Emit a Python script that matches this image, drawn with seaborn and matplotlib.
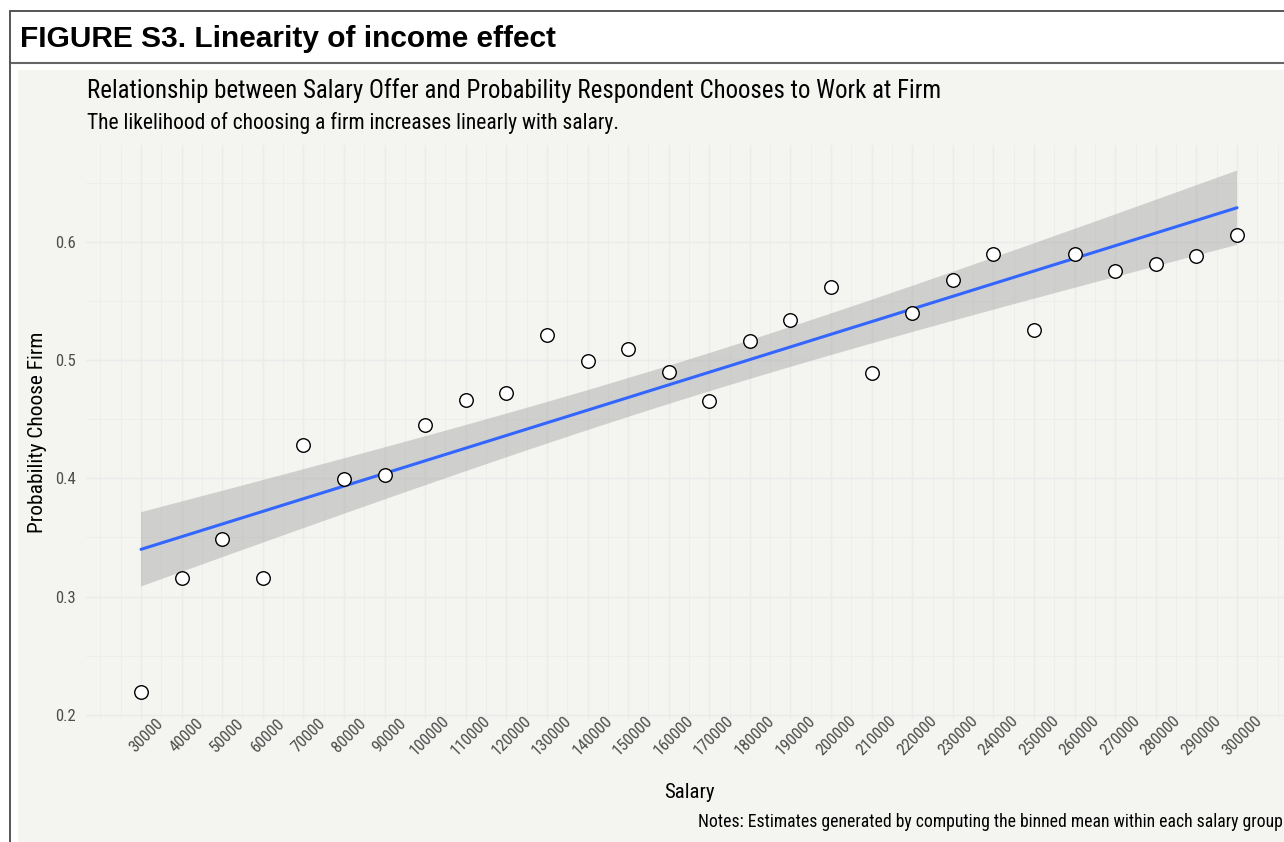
import matplotlib
matplotlib.use("Agg")
import matplotlib.pyplot as plt
import matplotlib.transforms as mtransforms
from matplotlib.lines import Line2D
from matplotlib.patches import Rectangle
import seaborn as sns
import pandas as pd
import numpy as np

# binned means
salary = [30000, 40000, 50000, 60000, 70000, 80000, 90000, 100000, 110000, 120000,
          130000, 140000, 150000, 160000, 170000, 180000, 190000, 200000, 210000, 220000,
          230000, 240000, 250000, 260000, 270000, 280000, 290000, 300000]
prob_choose = [0.219, 0.316, 0.349, 0.316, 0.428, 0.399, 0.403, 0.445, 0.466, 0.472,
               0.521, 0.499, 0.509, 0.490, 0.465, 0.516, 0.534, 0.562, 0.489, 0.540,
               0.568, 0.590, 0.525, 0.590, 0.575, 0.581, 0.588, 0.606]
x_ticks = list(range(30000, 300001, 10000))
y_ticks = [0.2, 0.3, 0.4, 0.5, 0.6]

df = pd.DataFrame({"Salary": salary, "Probability Choose Firm": prob_choose})

sns.set_theme(style="whitegrid")
cond = ["Roboto Condensed", "Liberation Sans Narrow", "Roboto", "DejaVu Sans"]
plt.rcParams["font.family"] = cond

W, H = 1284, 842
fig = plt.figure(figsize=(W / 100, H / 100), dpi=100, facecolor="white")

def fx(px):
    return px / W

def fy(py):
    return 1 - py / H

# light panel background, header rule and frame
fig.patches.append(Rectangle((fx(18.3), 0), 1, fy(70), transform=fig.transFigure,
                             facecolor="#F4F4F1", edgecolor="none", zorder=-5))
fig.lines.append(Line2D([fx(10), 1], [fy(63.3), fy(63.3)], transform=fig.transFigure,
                        color="#666666", lw=1.5))
fig.lines.append(Line2D([fx(10), 1], [fy(11), fy(11)], transform=fig.transFigure,
                        color="#555555", lw=1.4))
fig.lines.append(Line2D([fx(10), fx(10)], [0, fy(11)], transform=fig.transFigure,
                        color="#555555", lw=1.4))

ax_left, ax_right, ax_top, ax_bottom = 86.2, 1291.8, 145, 718.5
ax = fig.add_axes([fx(ax_left), fy(ax_bottom), (ax_right - ax_left) / W, (ax_bottom - ax_top) / H])
ax.set_facecolor("none")

sns.regplot(data=df, x="Salary", y="Probability Choose Firm", ax=ax, ci=None,
            scatter_kws=dict(s=95, color="white", edgecolor="black", linewidths=1.0,
                             alpha=1, zorder=3),
            line_kws=dict(color="#3366FF", lw=2.2, zorder=2))

# standard (non-bootstrap) 95% band, as geom_smooth(method = "lm") draws it
xs = np.asarray(salary, dtype=float)
ys = np.asarray(prob_choose, dtype=float)
n = len(xs)
slope, icpt = np.polyfit(xs, ys, 1)
resid = ys - (icpt + slope * xs)
s_err = np.sqrt((resid ** 2).sum() / (n - 2))
sxx = ((xs - xs.mean()) ** 2).sum()
grid = np.linspace(xs.min(), xs.max(), 100)
se_fit = s_err * np.sqrt(1 / n + (grid - xs.mean()) ** 2 / sxx)
t_crit = 2.0555  # t(0.975, df=26)
fit = icpt + slope * grid
ax.fill_between(grid, fit - t_crit * se_fit, fit + t_crit * se_fit,
                facecolor="#999999", alpha=0.4, edgecolor="none", zorder=1.5)

ax.set_xlim(16500, 313500)
ax.set_ylim(0.197, 0.6817)
ax.set_xticks(x_ticks)
ax.set_xticklabels([str(v) for v in x_ticks])
ax.set_xticks([v for v in range(20000, 310001, 5000) if v not in x_ticks], minor=True)
ax.set_yticks(y_ticks)
ax.set_yticklabels([str(v) for v in y_ticks])
ax.set_yticks([0.25, 0.35, 0.45, 0.55, 0.65], minor=True)

ax.set_axisbelow(True)
ax.grid(which="major", color="#EBEBEB", lw=1.07)
ax.grid(which="minor", color="#EBEBEB", lw=0.55)
for s in ax.spines.values():
    s.set_visible(False)

ax.tick_params(axis="both", which="both", length=0, colors="#4D4D4D", labelsize=12)
ax.tick_params(axis="y", pad=7.6)
ax.tick_params(axis="x", pad=0)
shift = mtransforms.ScaledTranslation(5 / 100, -17 / 100, fig.dpi_scale_trans)
for lab in ax.get_xticklabels():
    lab.set_rotation(45)
    lab.set_rotation_mode("anchor")
    lab.set_ha("center")
    lab.set_va("center")
    lab.set_transform(lab.get_transform() + shift)

ax.set_xlabel("")
ax.set_ylabel("")

fig.text(fx(20), fy(46.7), "FIGURE S3. Linearity of income effect", fontsize=21.5,
         fontweight="bold", family=["Liberation Sans", "DejaVu Sans"], va="baseline",
         color="black")

fig.text(fx(87.3), fy(98.3), "Relationship between Salary Offer and Probability Respondent Chooses to Work at Firm",
         fontsize=17.9, va="baseline", color="black")
fig.text(fx(87.3), fy(128.5), "The likelihood of choosing a firm increases linearly with salary.",
         fontsize=15.5, va="baseline", color="black")
fig.text(fx(689), fy(798), "Salary", fontsize=15, ha="center", va="baseline", color="black")
fig.text(fx(38), fy(432), "Probability Choose Firm", fontsize=15.4, rotation=90,
         ha="center", va="center", color="black")
fig.text(fx(697.5), fy(826.7), "Notes: Estimates generated by computing the binned mean within each salary group",
         fontsize=12.7, va="baseline", color="black")

fig.savefig("out.png", dpi=100, facecolor="white")
